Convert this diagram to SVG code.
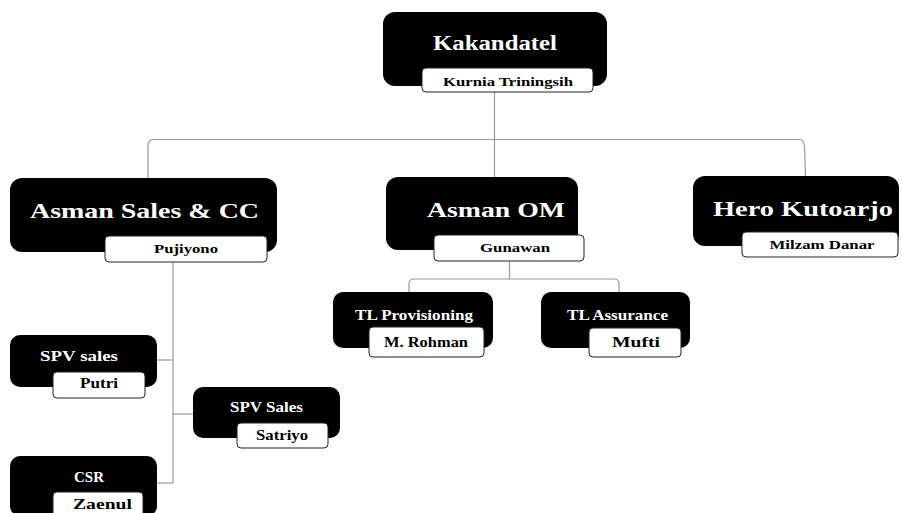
<svg xmlns="http://www.w3.org/2000/svg" width="902" height="513" viewBox="0 0 902 513">
<style>
.box{fill:#000;}
.lbl{fill:#fff;stroke:#222;stroke-width:1;}
.t{font-family:'Liberation Serif',serif;font-weight:700;text-anchor:middle;}
.tw{fill:#fff;}
.tb{fill:#000;}
.c{fill:none;stroke:#999;stroke-width:1.2;}
</style>
<rect width="902" height="513" fill="#fff"/>
<g id="connectors">
<path class="c" d="M494.5,92 V177"/>
<path class="c" d="M148,178 V147 Q148,139.5 153,139.5 H800 Q804,139.5 804.5,147 L805.5,176"/>
<path class="c" d="M509.5,261 V279"/>
<path class="c" d="M409,292 V284 Q409,279 414,279 H614 Q619,279 619,284 V292"/>
<path class="c" d="M173,262 V483"/>
<path class="c" d="M157,360 H173"/>
<path class="c" d="M173,414 H193"/>
<path class="c" d="M157,483 H173"/>
</g>
<g font-family="'Liberation Serif', serif" font-weight="bold">
<g id="kakandatel">
<rect class="box" x="383" y="12" width="224" height="74" rx="12"/>
<rect class="lbl" x="422" y="68" width="171" height="24" rx="4"/>
<text class="t tw" x="495" y="50" font-size="20" textLength="124" lengthAdjust="spacingAndGlyphs">Kakandatel</text>
<text class="t tb" x="508" y="86" font-size="13" textLength="130" lengthAdjust="spacingAndGlyphs">Kurnia Triningsih</text>
</g>
<g id="asman-sales">
<rect class="box" x="10" y="178" width="267" height="74" rx="12"/>
<rect class="lbl" x="105" y="236" width="162" height="26" rx="4"/>
<text class="t tw" x="144.5" y="218" font-size="21" textLength="229" lengthAdjust="spacingAndGlyphs">Asman Sales &amp; CC</text>
<text class="t tb" x="186" y="253" font-size="13" textLength="64" lengthAdjust="spacingAndGlyphs">Pujiyono</text>
</g>
<g id="asman-om">
<rect class="box" x="386" y="177" width="192" height="73" rx="12"/>
<rect class="lbl" x="434" y="235" width="150" height="26" rx="4"/>
<text class="t tw" x="496" y="217" font-size="21" textLength="138" lengthAdjust="spacingAndGlyphs">Asman OM</text>
<text class="t tb" x="515" y="252" font-size="13" textLength="70" lengthAdjust="spacingAndGlyphs">Gunawan</text>
</g>
<g id="hero">
<rect class="box" x="693" y="176" width="206" height="70" rx="12"/>
<rect class="lbl" x="742" y="232" width="156" height="25" rx="4"/>
<text class="t tw" x="803" y="216" font-size="21" textLength="180" lengthAdjust="spacingAndGlyphs">Hero Kutoarjo</text>
<text class="t tb" x="822" y="249" font-size="13" textLength="105" lengthAdjust="spacingAndGlyphs">Milzam Danar</text>
</g>
<g id="tl-prov">
<rect class="box" x="333" y="292" width="160" height="56" rx="10"/>
<rect class="lbl" x="369" y="327" width="115" height="30" rx="4"/>
<text class="t tw" x="414" y="320" font-size="14" textLength="118" lengthAdjust="spacingAndGlyphs">TL Provisioning</text>
<text class="t tb" x="426" y="347" font-size="15" textLength="84" lengthAdjust="spacingAndGlyphs">M. Rohman</text>
</g>
<g id="tl-assur">
<rect class="box" x="541" y="292" width="149" height="56" rx="10"/>
<rect class="lbl" x="589" y="328" width="92" height="29" rx="4"/>
<text class="t tw" x="617.5" y="320" font-size="14" textLength="101" lengthAdjust="spacingAndGlyphs">TL Assurance</text>
<text class="t tb" x="636" y="347" font-size="15" textLength="48" lengthAdjust="spacingAndGlyphs">Mufti</text>
</g>
<g id="spv-sales-1">
<rect class="box" x="10" y="335" width="147" height="52" rx="10"/>
<rect class="lbl" x="53" y="372" width="92" height="26" rx="4"/>
<text class="t tw" x="79" y="361" font-size="14" textLength="78" lengthAdjust="spacingAndGlyphs">SPV sales</text>
<text class="t tb" x="99" y="388" font-size="15" textLength="38" lengthAdjust="spacingAndGlyphs">Putri</text>
</g>
<g id="spv-sales-2">
<rect class="box" x="193" y="387" width="147" height="51" rx="10"/>
<rect class="lbl" x="237" y="423" width="91" height="25" rx="4"/>
<text class="t tw" x="266.5" y="412" font-size="14" textLength="73" lengthAdjust="spacingAndGlyphs">SPV Sales</text>
<text class="t tb" x="282" y="440" font-size="15" textLength="52" lengthAdjust="spacingAndGlyphs">Satriyo</text>
</g>
<g id="csr">
<rect class="box" x="10" y="456" width="147" height="60" rx="10"/>
<rect class="lbl" x="53" y="492" width="90" height="30" rx="4"/>
<text class="t tw" x="89" y="482" font-size="15" textLength="30" lengthAdjust="spacingAndGlyphs">CSR</text>
<text class="t tb" x="102.5" y="509" font-size="15" textLength="59" lengthAdjust="spacingAndGlyphs">Zaenul</text>
</g>
</g>
</svg>
